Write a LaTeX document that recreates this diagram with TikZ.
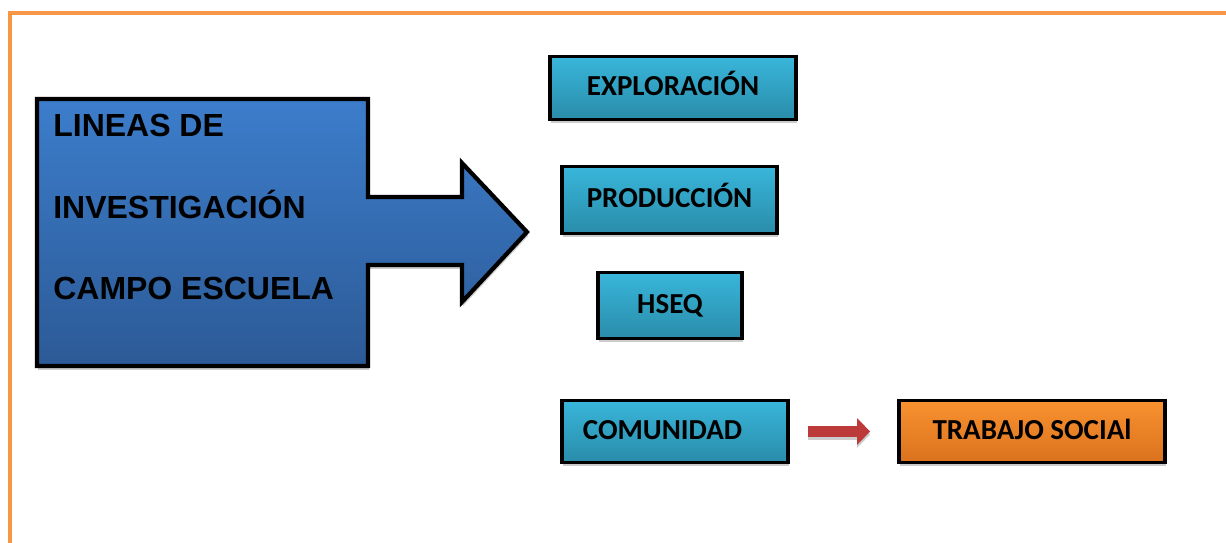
\documentclass[tikz,border=0pt]{standalone}
\usepackage{fontspec}
\setmainfont{Carlito}
\newfontfamily\arialfont{Liberation Sans}
\usetikzlibrary{arrows.meta,shadows}
\definecolor{marco}{HTML}{F79646}
\definecolor{cyantop}{HTML}{38B6DA}
\definecolor{cyanbot}{HTML}{2A8CAA}
\definecolor{azultop}{HTML}{3C7DCB}
\definecolor{azulbot}{HTML}{2C5A96}
\definecolor{narantop}{HTML}{F9922F}
\definecolor{naranbot}{HTML}{DA721E}
\definecolor{rojo}{HTML}{BC3A3A}

\begin{document}
\begin{tikzpicture}[x=0.02cm,y=-0.02cm,
  sombra/.style={drop shadow={shadow xshift=0.02cm,shadow yshift=-0.08cm,fill=gray!40,opacity=1}},
  caja/.style={draw=black,line width=2.2pt,top color=cyantop,bottom color=cyanbot,
    font=\bfseries\fontsize{16.5}{18}\selectfont,inner sep=0pt,text height=0.86em,text depth=0pt,sombra},
  flecha/.style={draw=black,line width=2.4pt,line join=miter,top color=azultop,bottom color=azulbot,sombra},
  linea/.style={font=\arialfont\bfseries\fontsize{18.2}{20}\selectfont,inner sep=0pt,anchor=base west}]
\useasboundingbox (0,0) rectangle (1226,543);
\draw[marco,line width=0.08cm] (1226,13) -- (10,13) -- (10,543);

% flecha grande
\draw[flecha] (37,99) -- (368,99) -- (368,197) -- (462,197) -- (462,163) -- (527,232)
  -- (462,302) -- (462,265) -- (368,265) -- (368,366) -- (37,366) -- cycle;
\node[linea] (l1) at (53,137) {LINEAS DE};
\node[linea] (l2) at (53,219) {INVESTIGACIÓN};
\node[linea] (l3) at (53,300) {CAMPO ESCUELA};

\node[caja,minimum width=4.92cm,minimum height=1.26cm] (expl) at (673,88) {EXPLORACIÓN};
\node[caja,minimum width=4.3cm,minimum height=1.34cm] (prod) at (669.5,200) {PRODUCCIÓN};
\node[caja,minimum width=2.88cm,minimum height=1.32cm] (hseq) at (670,305.5) {HSEQ};
\node[caja,minimum width=4.52cm,minimum height=1.24cm] (com) at (675,431.5) {COMUNIDAD\hspace*{0.5cm}};
\node[caja,top color=narantop,bottom color=naranbot,minimum width=5.32cm,minimum height=1.24cm] (trab) at (1032,431.5) {TRABAJO SOCIAl};

\draw[gray!40,line width=0.24cm,-{Triangle[length=0.26cm,width=0.52cm]},transform canvas={yshift=-0.06cm}]
  ([xshift=0.36cm]com.east) -- ([xshift=-0.54cm]trab.west);
\draw[rojo,line width=0.24cm,-{Triangle[length=0.26cm,width=0.52cm]}]
  ([xshift=0.36cm]com.east) -- ([xshift=-0.54cm]trab.west);
\end{tikzpicture}
\end{document}
